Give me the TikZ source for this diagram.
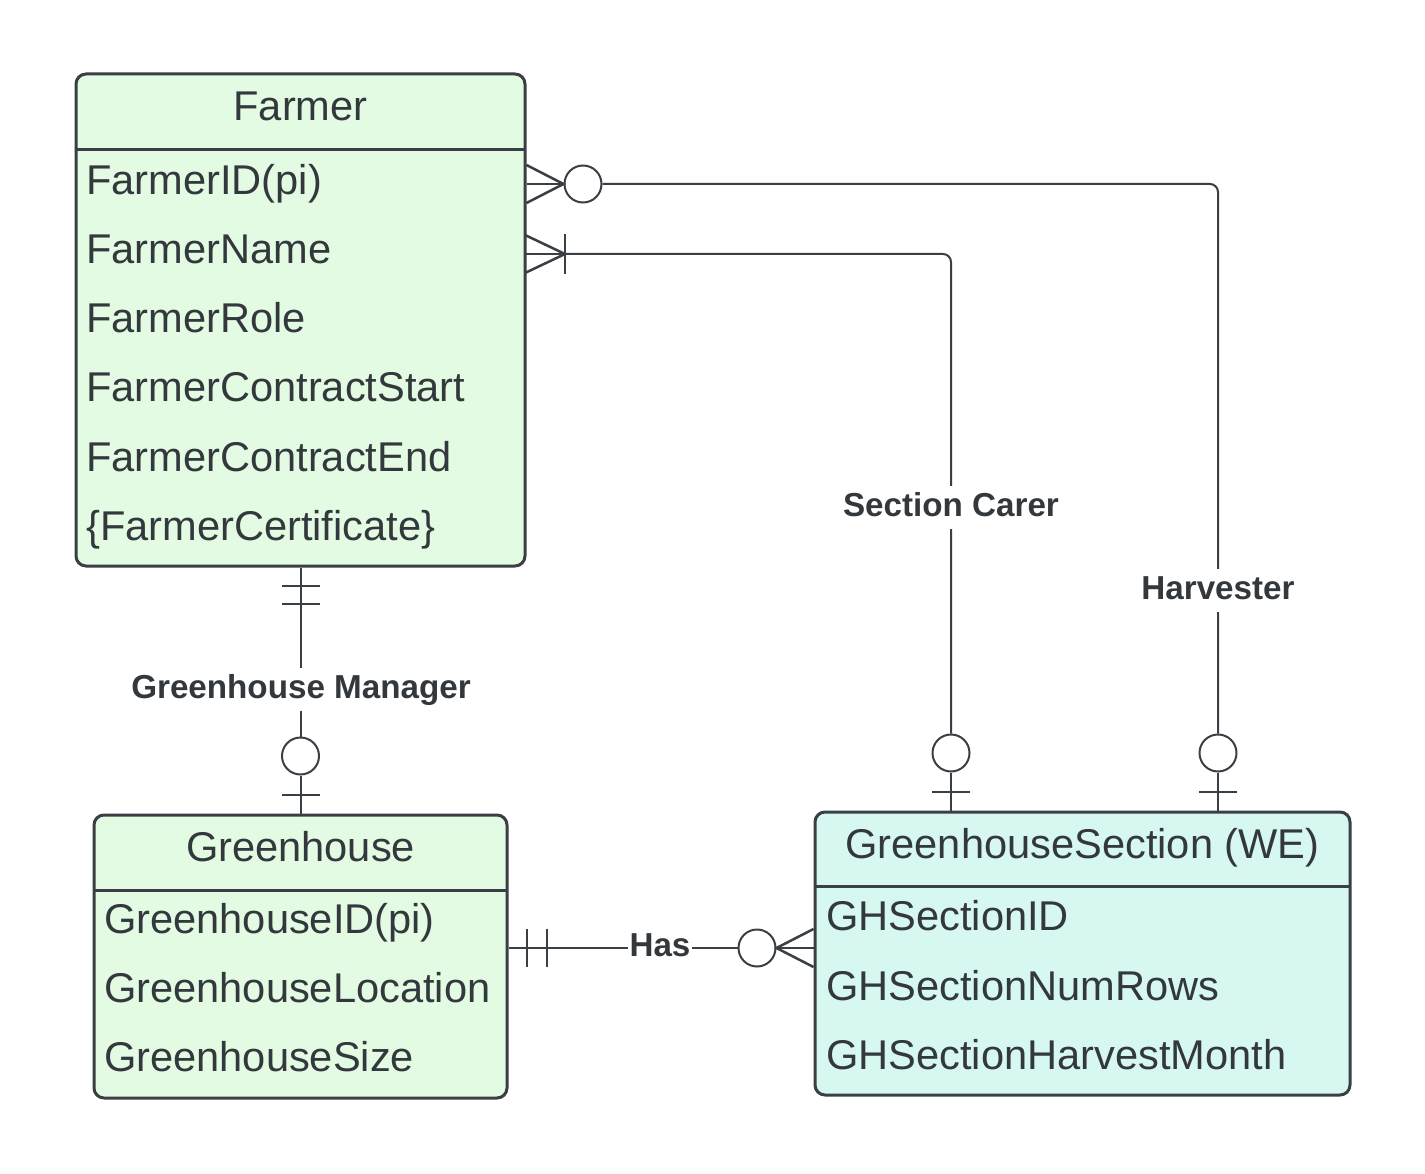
\documentclass[tikz,border=0pt]{standalone}
\usepackage{fontspec}
\setmainfont{Liberation Sans}
\usetikzlibrary{calc}
\definecolor{ink}{HTML}{33383D}
\definecolor{edgec}{HTML}{3A3F45}
\definecolor{farmfill}{HTML}{E3FAE3}
\definecolor{secfill}{HTML}{D6F8F0}
\begin{document}
\begin{tikzpicture}[x=1pt,y=-1pt,
  entity/.style={draw=edgec, line width=3pt, rounded corners=10pt, inner sep=0pt},
  divider/.style={draw=edgec, line width=3pt},
  attr/.style={anchor=base west, text=ink, font=\fontsize{41.6}{49}\selectfont, inner sep=0pt},
  ttl/.style={anchor=base, text=ink, font=\fontsize{41.6}{49}\selectfont, inner sep=0pt},
  rel/.style={fill=white, text=ink, font=\bfseries\fontsize{33.2}{39}\selectfont, inner xsep=2pt, inner ysep=6pt, text height=24pt, text depth=7pt},
  conn/.style={draw=edgec, line width=2pt},
  crow/.style={draw=edgec, line width=2.5pt},
  ring/.style={circle, draw=edgec, line width=2pt, fill=white, minimum size=37pt, inner sep=0pt}
]
\useasboundingbox (0,0) rectangle (1425,1174);
\fill[white] (0,0) rectangle (1425,1174);

% ---------- entities ----------
\node[entity, fill=farmfill, minimum width=449pt, minimum height=492pt] (farmer) at (300.5,320) {};
\draw[divider] (76,150) -- (525,150);
\node[ttl] (farmerT) at (300.5,121) {Farmer};
\node[attr] (f1) at (86,195) {FarmerID(pi)};
\node[attr] (f2) at (86,264) {FarmerName};
\node[attr] (f3) at (86,333) {FarmerRole};
\node[attr] (f4) at (86,402) {FarmerContractStart};
\node[attr] (f5) at (86,471) {FarmerContractEnd};
\node[attr] (f6) at (86,540) {\{FarmerCertificate\}};

\node[entity, fill=farmfill, minimum width=413pt, minimum height=283pt] (gh) at (300.5,956.5) {};
\draw[divider] (94,890) -- (507,890);
\node[ttl] (ghT) at (300.5,861) {Greenhouse};
\node[attr] (g1) at (104,933) {GreenhouseID(pi)};
\node[attr] (g2) at (104,1002) {GreenhouseLocation};
\node[attr] (g3) at (104,1071) {GreenhouseSize};

\node[entity, fill=secfill, minimum width=535pt, minimum height=283pt] (sec) at (1082.5,953.5) {};
\draw[divider] (815,886) -- (1350,886);
\node[ttl] (secT) at (1082.5,858) {GreenhouseSection (WE)};
\node[attr] (s1) at (826,930) {GHSectionID};
\node[attr] (s2) at (826,1000) {GHSectionNumRows};
\node[attr] (s3) at (826,1069) {GHSectionHarvestMonth};

% ---------- Harvester ----------
\node[ring] (o1) at (583,184) {};
\node[ring] (o4) at (1218,753) {};
\coordinate (fa) at (farmer.east |- o1);
\draw[conn, rounded corners=8pt] (o1.east) -- (o1.east -| o4) -- (o4.north);
\draw[crow] (fa) -- (o1.west);
\draw[crow] ($(fa)+(0,-19)$) -- (o1.west) -- ($(fa)+(0,19)$);
\draw[conn] (o4.south) -- (o4.south |- sec.north);
\draw[crow] (1199,792) -- (1237,792);

% ---------- Section Carer ----------
\coordinate (fb) at (525,254);
\coordinate (fbt) at (565,254);
\node[ring] (o3) at (951,753) {};
\draw[conn, rounded corners=8pt] (fbt) -- (fbt -| o3) -- (o3.north);
\draw[crow] (fb) -- (fbt);
\draw[crow] ($(fb)+(0,-19)$) -- (fbt) -- ($(fb)+(0,19)$);
\draw[crow] (565,234) -- (565,274);
\draw[conn] (o3.south) -- (o3.south |- sec.north);
\draw[crow] (932,792) -- (970,792);

% ---------- Greenhouse Manager ----------
\node[ring] (o2) at (300.5,756) {};
\draw[conn] (farmer.south) -- (o2.north);
\draw[crow] (282,586) -- (320,586);
\draw[crow] (282,604) -- (320,604);
\draw[conn] (o2.south) -- (gh.north);
\draw[crow] (282,795) -- (320,795);

% ---------- Has ----------
\node[ring] (o5) at (757,948) {};
\coordinate (ghe) at (gh.east |- o5);
\coordinate (sew) at (sec.west |- o5);
\draw[conn] (ghe) -- (o5.west);
\draw[crow] (527,929) -- (527,967);
\draw[crow] (547,929) -- (547,967);
\draw[crow] (o5.east) -- (sew);
\draw[crow] ($(sew)+(0,-19)$) -- (o5.east) -- ($(sew)+(0,19)$);

% ---------- relationship labels ----------
\node[rel] (lblGM) at (301,689.5) {Greenhouse Manager};
\node[rel] (lblSC) at (951,507.5) {Section Carer};
\node[rel] (lblHV) at (1218,590.5) {Harvester};
\node[rel] (lblHS) at (660,947.5) {Has};
\end{tikzpicture}
\end{document}
